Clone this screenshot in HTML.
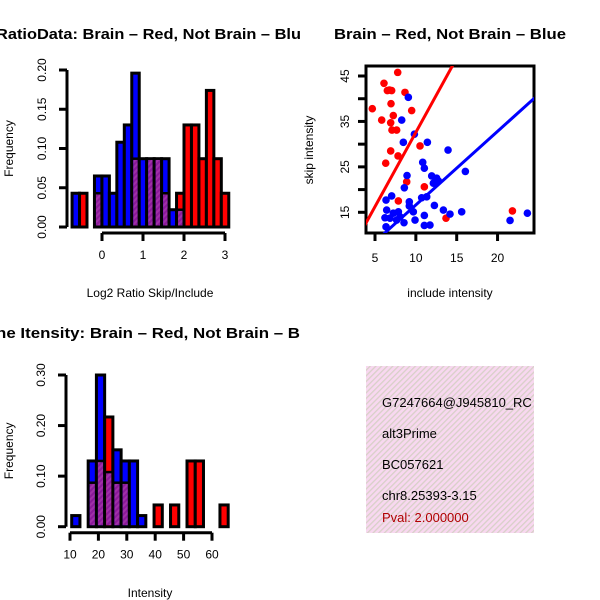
<!DOCTYPE html>
<html><head><meta charset="utf-8"><style>
html,body{margin:0;padding:0;background:#fff;}
svg{display:block;font-family:"Liberation Sans",sans-serif;}
</style></head><body>
<svg id="s" width="600" height="600" viewBox="0 0 600 600" xmlns="http://www.w3.org/2000/svg">
<defs>
<pattern id="hatch" width="4" height="4" patternUnits="userSpaceOnUse" patternTransform="rotate(45)">
<rect width="4" height="4" fill="#8b1a9a"/><rect width="2" height="4" fill="#a030a8"/></pattern>
<pattern id="boxhatch" width="4" height="4" patternUnits="userSpaceOnUse" patternTransform="rotate(45)">
<rect width="4" height="4" fill="#f8d8f0"/><rect width="1.3" height="4" fill="#d8d0c8"/></pattern>
<clipPath id="scClip"><rect x="366" y="66" width="168" height="167"/></clipPath>
</defs>
<text x="-4" y="39" font-size="14.5" font-weight="bold" textLength="305" lengthAdjust="spacingAndGlyphs">RatioData: Brain – Red, Not Brain – Blu</text>
<text x="334" y="39" font-size="14.5" font-weight="bold" textLength="232" lengthAdjust="spacingAndGlyphs">Brain – Red, Not Brain – Blue</text>
<text x="-4" y="338" font-size="14.5" font-weight="bold" textLength="304" lengthAdjust="spacingAndGlyphs">ne Itensity: Brain – Red, Not Brain – B</text>
<g id="h1"></g>
<g id="sc"></g>
<g id="h2"></g>
<g>
<rect x="366" y="366" width="168" height="167" fill="url(#boxhatch)"/>
<text x="382" y="407" font-size="13">G7247664@J945810_RC</text>
<text x="382" y="438" font-size="13">alt3Prime</text>
<text x="382" y="469" font-size="13">BC057621</text>
<text x="382" y="500" font-size="13">chr8.25393-3.15</text>
<text x="382" y="522" font-size="13" fill="#b00000">Pval: 2.000000</text>
</g>
<rect x="534" y="366" width="66" height="170" fill="#fff"/>
</svg>
<script>
// ---- Histogram 1 data ----
const h1Blue = [0.043,0,0,0.065,0.065,0.043,0.108,0.13,0.196,0.087,0.087,0.087,0.087,0.022,0.022,0,0,0,0,0,0];
const h1Red  = [0,0.043,0,0.043,0,0,0,0,0.087,0,0.087,0.087,0.043,0,0.043,0.13,0.13,0.087,0.174,0.087,0.043];
const h1Start = -0.73, h1Bin = 0.182;
const h1XTicks = [0,1,2,3];
const h1YTicks = ["0.00","0.05","0.10","0.15","0.20"];
// ---- Histogram 2 data ----
const h2Blue = [0.022,0,0.13,0.30,0.108,0.152,0.13,0.13,0.022,0,0,0,0,0,0,0,0,0,0];
const h2Red  = [0,0,0.087,0.13,0.217,0.087,0.087,0,0,0,0.043,0,0.043,0,0.13,0.13,0,0,0.043];
const h2Start = 10.6, h2Bin = 2.9;
const h2XTicks = [10,20,30,40,50,60];
const h2YTicks = ["0.00","0.10","0.20","0.30"];
// ---- Scatter data ----
const redX = [7.78,6.10,6.76,6.51,7.04,8.67,6.96,4.67,9.49,7.24,5.82,6.92,7.08,7.65,10.51,6.92,7.82,6.31,8.88,11.04,7.86,13.69,21.82];
const redY = [45.8,43.4,41.9,41.8,41.8,41.4,38.9,37.8,37.4,36.3,35.3,34.7,33.1,33.1,29.6,28.5,27.4,25.8,21.7,20.6,17.5,13.7,15.3];
const blueX = [9.08,8.27,9.82,8.47,11.41,13.94,10.84,11.04,16.06,8.92,11.94,12.55,12.14,12.76,8.59,7.04,6.35,9.20,10.71,11.33,9.20,12.27,6.43,7.86,7.24,9.69,13.37,15.61,14.18,6.22,6.84,8.55,9.90,11.04,11.04,11.73,6.35,21.53,23.65,8.06,7.65];
const blueY = [40.3,35.3,32.2,30.4,30.4,28.7,26.0,24.7,24.0,23.1,23.0,22.5,21.4,21.9,20.4,18.6,17.7,17.3,18.2,18.4,16.4,16.5,15.5,15.1,14.8,15.1,15.5,15.1,14.6,13.8,13.7,12.7,13.3,14.3,12.1,12.2,11.8,13.2,14.8,14.0,13.3];
const redFit = [3.27,-0.1];   // slope, intercept
const blueFit = [1.62,0.42];
const scXTicks = [5,10,15,20];
const scYTicks = [15,25,35,45];
const scYMinor = [20,30,40];

const NS="http://www.w3.org/2000/svg";
function mk(parent,tag,attrs){const e=document.createElementNS(NS,tag);for(const k in attrs)e.setAttribute(k,attrs[k]);parent.appendChild(e);return e;}

function hist(g,blue,red,start,bin,xmin,xmax,ymax,yTicks,xTicks,px,py,axisX,xlabel,labelX,labelY,pfx){
  const sx=v=>px[0]+(v-xmin)/(xmax-xmin)*(px[1]-px[0]);
  const sy=v=>py[0]-v/ymax*(py[0]-py[1]);
  for(let i=0;i<blue.length;i++){
    const x0=sx(start+i*bin), x1=sx(start+(i+1)*bin);
    const b=blue[i], r=red[i], mx=Math.max(b,r), mn=Math.min(b,r);
    if(mx<=0) continue;
    const o=mk(g,'rect',{x:x0,y:sy(mx),width:x1-x0,height:sy(0)-sy(mx),fill:b>=r?'#0000ff':'#ff0000',stroke:'#000','stroke-width':3});
    
    
    if(mn>0){
      const p=mk(g,'rect',{x:x0+1.5,y:sy(mn),width:x1-x0-3,height:sy(0)-sy(mn)-1.5,fill:'url(#hatch)'});
      
      
      mk(g,'line',{x1:x0,x2:x1,y1:sy(mn),y2:sy(mn),stroke:'#000','stroke-width':2.5});
    }
  }
  const yv=yTicks.map(Number);
  mk(g,'line',{x1:axisX,x2:axisX,y1:sy(yv[0]),y2:sy(yv[yv.length-1]),stroke:'#000','stroke-width':3});
  yTicks.forEach((t,i)=>{
    const y=sy(yv[i]);
    mk(g,'line',{x1:axisX-8,x2:axisX,y1:y,y2:y,stroke:'#000','stroke-width':3});
    const lx=axisX-21;
    const tx=mk(g,'text',{x:lx,y:y,'font-size':12,'text-anchor':'middle',transform:`rotate(-90 ${lx} ${y})`});
    tx.textContent=t;
    
    
  });
  const yl=mk(g,'text',{x:13,y:(py[0]+py[1])/2,'font-size':12,'text-anchor':'middle',transform:`rotate(-90 13 ${(py[0]+py[1])/2})`});
  yl.textContent='Frequency';
  
  
  const xa=py[0]+6;
  mk(g,'line',{x1:sx(xTicks[0]),x2:sx(xTicks[xTicks.length-1]),y1:xa,y2:xa,stroke:'#000','stroke-width':3});
  xTicks.forEach(t=>{
    const x=sx(t);
    mk(g,'line',{x1:x,x2:x,y1:xa,y2:xa+8,stroke:'#000','stroke-width':3});
    const tx=mk(g,'text',{x:x,y:xa+26,'font-size':12,'text-anchor':'middle'});
    tx.textContent=t;
    
    
  });
  const xl=mk(g,'text',{x:labelX,y:labelY,'font-size':12,'text-anchor':'middle'});
  xl.textContent=xlabel;
  
  
}
hist(document.getElementById('h1'),h1Blue,h1Red,h1Start,h1Bin,0,1,0.2,h1YTicks,h1XTicks,[102,143],[227,70],67,'Log2 Ratio Skip/Include',150,297,'ratio');
hist(document.getElementById('h2'),h2Blue,h2Red,h2Start,h2Bin,10,20,0.3,h2YTicks,h2XTicks,[70,98.4],[526.7,375],66,'Intensity',150,597,'intensity');

(function(){
  const g=document.getElementById('sc');
  const sx=v=>375+(v-5)*8.17, sy=v=>212.3-(v-15)*4.543;
  const box=mk(g,'rect',{x:366,y:66,width:168,height:167,fill:'none',stroke:'#000','stroke-width':3});
  
  
  const cg=mk(g,'g',{'clip-path':'url(#scClip)'});
  redX.forEach((x,i)=>{const c=mk(cg,'circle',{cx:sx(x),cy:sy(redY[i]),r:3.8,fill:'#ff0000'});
    
    });
  blueX.forEach((x,i)=>{const c=mk(cg,'circle',{cx:sx(x),cy:sy(blueY[i]),r:3.8,fill:'#0000ff'});
    
    });
  [[redFit,'#ff0000','brain-fit-line'],[blueFit,'#0000ff','not-brain-fit-line']].forEach(([f,col,nm])=>{
    const l=mk(cg,'line',{x1:sx(3),y1:sy(f[0]*3+f[1]),x2:sx(26),y2:sy(f[0]*26+f[1]),stroke:col,'stroke-width':3});
    
    
  });
  scXTicks.forEach(t=>{const x=sx(t);
    mk(g,'line',{x1:x,x2:x,y1:233,y2:241,stroke:'#000','stroke-width':3});
    const tx=mk(g,'text',{x:x,y:262,'font-size':12,'text-anchor':'middle'});tx.textContent=t;
    
    });
  scYTicks.concat(scYMinor).forEach(t=>{const y=sy(t);
    mk(g,'line',{x1:358,x2:366,y1:y,y2:y,stroke:'#000','stroke-width':3});});
  scYTicks.forEach(t=>{const y=sy(t);
    const tx=mk(g,'text',{x:349,y:y,'font-size':12,'text-anchor':'middle',transform:`rotate(-90 349 ${y})`});tx.textContent=t;
    
    });
  const xl=mk(g,'text',{x:450,y:297,'font-size':12,'text-anchor':'middle'});xl.textContent='include intensity';
  
  
  const yl=mk(g,'text',{x:313,y:150,'font-size':12,'text-anchor':'middle',transform:'rotate(-90 313 150)'});yl.textContent='skip intensity';
  
  
})();
</script>
</body></html>
